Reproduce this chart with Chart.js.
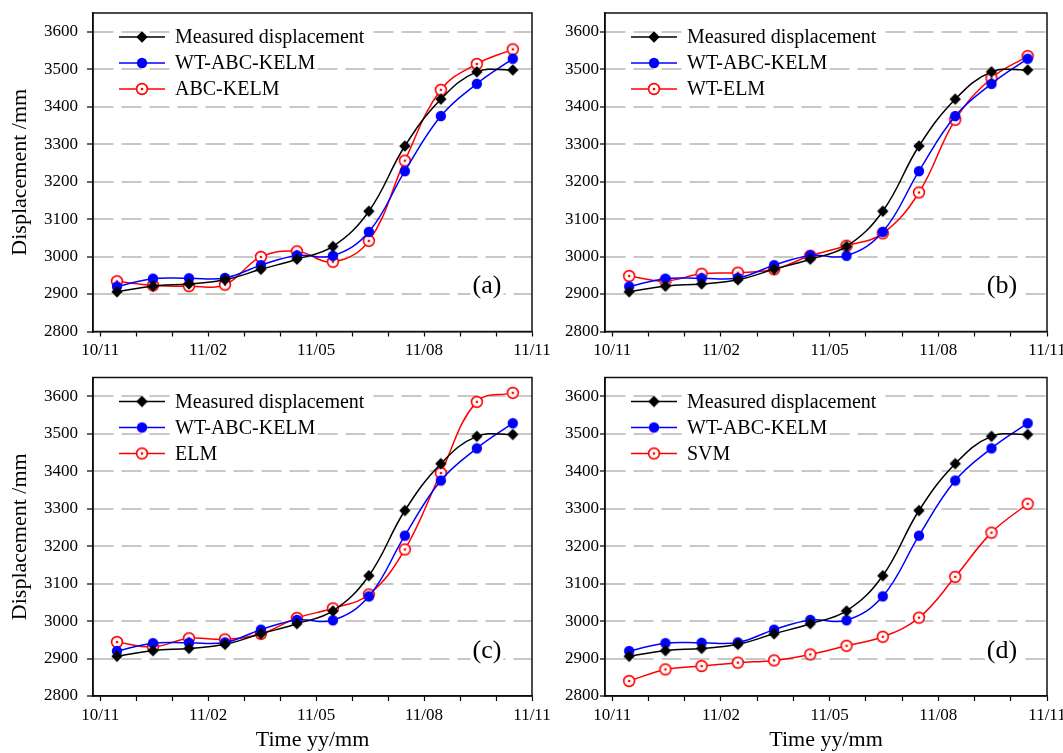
<!DOCTYPE html>
<html>
<head>
<meta charset="utf-8">
<script src="https://cdn.jsdelivr.net/npm/chart.js@4.4.1/dist/chart.umd.min.js"></script>
<style>
  body { margin: 0; background: #fff; width: 1063px; height: 753px; overflow: hidden; position: relative; }
  canvas { position: absolute; }
</style>
</head>
<body>
<canvas id="panelA"></canvas>
<canvas id="panelB"></canvas>
<canvas id="panelC"></canvas>
<canvas id="panelD"></canvas>
<script>
// monitoring dates (one value per month)
const dates = ['2010-11-15', '2010-12-15', '2011-01-15', '2011-02-15', '2011-03-15', '2011-04-15',
  '2011-05-15', '2011-06-15', '2011-07-15', '2011-08-15', '2011-09-15', '2011-10-15'];

const measured  = [2906, 2921, 2927, 2938, 2966, 2993, 3027, 3121, 3295, 3420, 3493, 3498];
const wtAbcKelm = [2920, 2941, 2942, 2943, 2977, 3003, 3002, 3066, 3228, 3375, 3461, 3528];
const abcKelm   = [2934, 2923, 2921, 2925, 2999, 3014, 2986, 3042, 3256, 3445, 3514, 3553];
const wtElm     = [2948, 2935, 2954, 2957, 2966, 3002, 3029, 3062, 3171, 3365, 3476, 3535];
const elm       = [2944, 2931, 2954, 2951, 2966, 3008, 3034, 3071, 3191, 3395, 3585, 3609];
const svm       = [2840, 2871, 2880, 2889, 2895, 2911, 2934, 2958, 3009, 3118, 3236, 3313];

const xTickLabels = ['10/11', '11/02', '11/05', '11/08', '11/11'];
const yTickValues = [2800, 2900, 3000, 3100, 3200, 3300, 3400, 3500, 3600];

const SERIF = "'Liberation Serif', 'Times New Roman', serif";
const RED = '#ff0000';
const BLUE = '#0000ff';

// months since Nov 2010
function monthOffset(d) {
  const [y, m, day] = d.split('-').map(Number);
  return (y - 2010) * 12 + (m - 11) + (day - 1) / 30;
}

function makeMarker(kind, color) {
  const c = document.createElement('canvas');
  c.width = 16; c.height = 16;
  const g = c.getContext('2d');
  g.fillStyle = color;
  g.strokeStyle = color;
  if (kind === 'diamond') {
    g.beginPath();
    g.moveTo(8, 2.3); g.lineTo(13.7, 8); g.lineTo(8, 13.7); g.lineTo(2.3, 8);
    g.closePath(); g.fill();
  } else if (kind === 'dot') {
    g.beginPath(); g.arc(8, 8, 5.2, 0, Math.PI * 2); g.fill();
  } else {
    g.fillStyle = '#fff';
    g.lineWidth = 1.6;
    g.beginPath(); g.arc(8, 8, 5.4, 0, Math.PI * 2); g.fill(); g.stroke();
    g.fillStyle = color;
    g.beginPath(); g.arc(8, 8, 1.3, 0, Math.PI * 2); g.fill();
  }
  return c;
}

const markers = {
  black: makeMarker('diamond', '#000'),
  blue: makeMarker('dot', BLUE),
  red: makeMarker('ring', RED)
};

function series(label, values, color, marker) {
  return {
    label,
    data: values.map((v, i) => ({ x: monthOffset(dates[i]), y: v })),
    borderColor: color,
    backgroundColor: color,
    borderWidth: 1.5,
    tension: 0.4,
    pointStyle: marker,
    pointRadius: 6,
    marker
  };
}

// legend inside plot, panel letter, box around plot area
const panelDecor = {
  id: 'panelDecor',
  beforeDatasetsDraw(chart, args, opts) {
    const { ctx, chartArea: a } = chart;
    ctx.save();
    ctx.font = '20px ' + SERIF;
    ctx.textBaseline = 'middle';
    chart.data.datasets.forEach((ds, i) => {
      const y = a.top + 24 + i * 26;
      const tx = a.left + 82;
      const w = ctx.measureText(ds.label).width;
      ctx.fillStyle = '#fff';
      ctx.fillRect(tx - 2, y - 10, w + 4, 19);
      ctx.strokeStyle = ds.borderColor;
      ctx.lineWidth = 1.5;
      ctx.beginPath();
      ctx.moveTo(a.left + 26, y);
      ctx.lineTo(a.left + 72, y);
      ctx.stroke();
      ctx.drawImage(ds.marker, a.left + 49 - 8, y - 8);
      ctx.fillStyle = '#000';
      ctx.fillText(ds.label, tx, y + 1);
    });
    ctx.font = '26px ' + SERIF;
    ctx.textAlign = 'center';
    const lw = ctx.measureText(opts.letter).width;
    const lx = a.right - 45, ly = a.bottom - 46;
    ctx.fillStyle = '#fff';
    ctx.fillRect(lx - lw / 2 - 2, ly - 13, lw + 4, 26);
    ctx.fillStyle = '#000';
    ctx.fillText(opts.letter, lx, ly + 1);
    ctx.restore();
  },
  afterDraw(chart) {
    const { ctx, chartArea: a } = chart;
    ctx.save();
    ctx.strokeStyle = '#111';
    ctx.lineWidth = 1.5;
    ctx.strokeRect(a.left, a.top, a.right - a.left, a.bottom - a.top);
    ctx.restore();
  }
};

function makePanel(id, pos, cfg) {
  const el = document.getElementById(id);
  el.width = pos.w; el.height = pos.h;
  el.style.left = pos.x + 'px'; el.style.top = pos.y + 'px';
  el.style.width = pos.w + 'px'; el.style.height = pos.h + 'px';

  new Chart(el.getContext('2d'), {
    type: 'line',
    data: { datasets: cfg.datasets },
    plugins: [panelDecor],
    options: {
      responsive: false,
      animation: false,
      devicePixelRatio: 1,
      layout: { padding: { left: 0, top: pos.padTop, right: pos.padRight, bottom: 0 } },
      plugins: {
        legend: { display: false },
        tooltip: { enabled: false },
        panelDecor: { letter: cfg.letter }
      },
      scales: {
        x: {
          type: 'linear',
          min: -0.2,
          max: 12,
          // a tick every month, label every third
          afterBuildTicks(s) { s.ticks = Array.from({ length: 13 }, (_, i) => ({ value: i })); },
          afterFit(s) { s.height = pos.xh; s.paddingLeft = 0; s.paddingRight = 0; },
          border: { color: '#000', width: 1.5 },
          grid: {
            drawOnChartArea: false,
            tickLength: 5,
            tickWidth: 1.2,
            tickColor: '#000'
          },
          ticks: {
            autoSkip: false,
            maxRotation: 0,
            padding: 4,
            color: '#000',
            font: { family: SERIF, size: 17 },
            callback: v => (v % 3 === 0) ? xTickLabels[v / 3] : ''
          },
          title: {
            display: cfg.xTitle,
            text: 'Time yy/mm',
            color: '#000',
            font: { family: SERIF, size: 22 },
            padding: { top: 0, bottom: 0 }
          }
        },
        y: {
          min: 2800,
          max: 3650,
          afterBuildTicks(s) { s.ticks = yTickValues.map(v => ({ value: v })); },
          afterFit(s) { s.width = pos.yw; s.paddingTop = 0; s.paddingBottom = 0; },
          border: { color: '#000', width: 1.5, dash: [20, 8] },
          grid: {
            color: c => (c.tick && c.tick.value > 2800) ? '#c8c8c8' : 'rgba(0,0,0,0)',
            lineWidth: 2,
            tickLength: pos.ytl,
            tickWidth: 1.2,
            tickColor: '#000',
            tickBorderDash: []
          },
          ticks: {
            padding: pos.ypad,
            color: '#000',
            font: { family: SERIF, size: 17 },
            callback: v => String(v)
          },
          title: {
            display: cfg.yTitle,
            text: 'Displacement /mm',
            color: '#000',
            font: { family: SERIF, size: 22 },
            padding: { top: 7, bottom: 0 }
          }
        }
      }
    }
  });
}

const leftTop = { x: 0, y: 0, w: 560, h: 372, padTop: 13, padRight: 28, xh: 40.5, yw: 93, ytl: 6, ypad: 9 };
const rightTop = { x: 545, y: 0, w: 518, h: 372, padTop: 13, padRight: 16, xh: 40.5, yw: 60, ytl: 5, ypad: 1 };
const leftBot = { x: 0, y: 370, w: 560, h: 383, padTop: 7, padRight: 28, xh: 57, yw: 93, ytl: 6, ypad: 9 };
const rightBot = { x: 545, y: 370, w: 518, h: 383, padTop: 7, padRight: 16, xh: 57, yw: 60, ytl: 5, ypad: 1 };

makePanel('panelA', leftTop, {
  letter: '(a)', xTitle: false, yTitle: true,
  datasets: [
    series('Measured displacement', measured, '#000', markers.black),
    series('WT-ABC-KELM', wtAbcKelm, BLUE, markers.blue),
    series('ABC-KELM', abcKelm, RED, markers.red)
  ]
});
makePanel('panelB', rightTop, {
  letter: '(b)', xTitle: false, yTitle: false,
  datasets: [
    series('Measured displacement', measured, '#000', markers.black),
    series('WT-ABC-KELM', wtAbcKelm, BLUE, markers.blue),
    series('WT-ELM', wtElm, RED, markers.red)
  ]
});
makePanel('panelC', leftBot, {
  letter: '(c)', xTitle: true, yTitle: true,
  datasets: [
    series('Measured displacement', measured, '#000', markers.black),
    series('WT-ABC-KELM', wtAbcKelm, BLUE, markers.blue),
    series('ELM', elm, RED, markers.red)
  ]
});
makePanel('panelD', rightBot, {
  letter: '(d)', xTitle: true, yTitle: false,
  datasets: [
    series('Measured displacement', measured, '#000', markers.black),
    series('WT-ABC-KELM', wtAbcKelm, BLUE, markers.blue),
    series('SVM', svm, RED, markers.red)
  ]
});
</script>
</body>
</html>
